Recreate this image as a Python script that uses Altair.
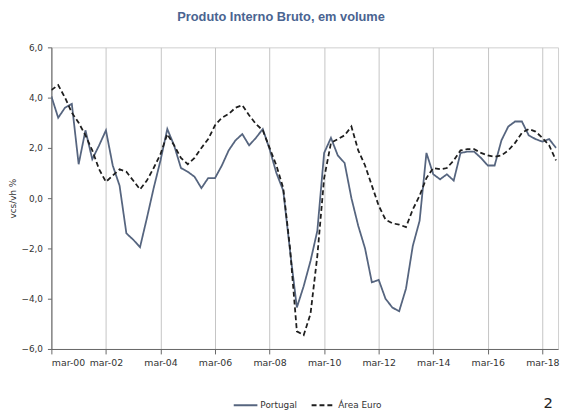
import json
import altair as alt
import pandas as pd

# Quarterly y-o-y GDP growth (%), 2000Q1 .. 2018Q3
portugal = [
    4.05, 3.2, 3.6, 3.75, 1.35, 2.7, 1.55, 2.1,      # 2000-2001
    2.7, 1.3, 0.5, -1.4, -1.65, -1.95, -0.8, 0.4,     # 2002-2003
    1.5, 2.75, 2.1, 1.2, 1.05, 0.85, 0.4, 0.8,        # 2004-2005
    0.8, 1.3, 1.9, 2.3, 2.55, 2.1, 2.4, 2.75,         # 2006-2007
    1.95, 1.0, 0.3, -2.1, -4.35, -3.5, -2.5, -1.3,    # 2008-2009
    1.8, 2.4, 1.7, 1.4, 0.0, -1.1, -2.0, -3.35,       # 2010-2011
    -3.25, -4.0, -4.35, -4.5, -3.6, -1.9, -0.9, 1.8,  # 2012-2013
    0.95, 0.75, 0.95, 0.7, 1.8, 1.85, 1.85, 1.6,      # 2014-2015
    1.3, 1.3, 2.3, 2.85, 3.05, 3.05, 2.5, 2.35,       # 2016-2017
    2.25, 2.35, 2.0,                                  # 2018
]
area_euro = [
    4.3, 4.5, 4.0, 3.4, 3.0, 2.5, 1.9, 1.15,
    0.65, 0.9, 1.15, 1.05, 0.7, 0.35, 0.7, 1.2,
    1.75, 2.55, 2.1, 1.6, 1.35, 1.6, 2.0, 2.35,
    2.9, 3.2, 3.35, 3.6, 3.7, 3.3, 2.95, 2.7,
    2.0, 1.3, 0.4, -2.0, -5.3, -5.45, -4.6, -2.3,
    0.8, 2.2, 2.35, 2.5, 2.85, 1.9, 1.3, 0.5,
    -0.3, -0.85, -1.0, -1.05, -1.15, -0.45, 0.1, 0.8,
    1.2, 1.15, 1.2, 1.5, 1.9, 1.95, 1.95, 1.8,
    1.7, 1.65, 1.7, 1.9, 2.2, 2.6, 2.75, 2.65,
    2.4, 2.1, 1.5,
]
series_names = ["Portugal", "Área Euro"]
tick_labels = ["mar-00", "mar-02", "mar-04", "mar-06", "mar-08",
               "mar-10", "mar-12", "mar-14", "mar-16", "mar-18"]
y_ticks = [-6, -4, -2, 0, 2, 4, 6]

rows = []
for name, vals in zip(series_names, [portugal, area_euro]):
    for i, v in enumerate(vals):
        rows.append({"t": i, "serie": name, "v": v})
df = pd.DataFrame(rows)

tick_vals = [8 * k for k in range(len(tick_labels))]
label_expr = json.dumps(tick_labels) + "[round(datum.value / 8)]"

legend_kw = dict(title=None, orient="none", legendX=184, legendY=350,
                 direction="horizontal", symbolType="stroke",
                 symbolSize=576, symbolStrokeWidth=2,
                 labelFontSize=9, labelFont="DejaVu Sans",
                 labelColor="#333333", labelOffset=2, columnPadding=10)

lines = alt.Chart(df).mark_line(strokeWidth=1.8, clip=True).encode(
    x=alt.X("t:Q",
            scale=alt.Scale(domain=[0, 74.3], nice=False, zero=False),
            axis=alt.Axis(values=tick_vals, labelExpr=label_expr, title=None,
                          grid=True, gridColor="#c4c4c4", gridWidth=1,
                          domainColor="#666666", tickColor="#666666",
                          tickSize=5, labelPadding=4, labelFontSize=9.5,
                          labelColor="#333333", labelFont="DejaVu Sans")),
    y=alt.Y("v:Q",
            scale=alt.Scale(domain=[-6, 6], nice=False),
            axis=alt.Axis(values=y_ticks, grid=False, title="vcs/vh %",
                          labelExpr="replace(format(datum.value, '.1f'), '.', ',')",
                          domainColor="#666666", tickColor="#666666",
                          tickSize=4, labelPadding=5, labelFontSize=9,
                          labelColor="#333333", labelFont="DejaVu Sans",
                          titleFont="DejaVu Sans", titleFontSize=9,
                          titleFontWeight="normal", titleColor="#333333",
                          titlePadding=4)),
    color=alt.Color("serie:N",
                    scale=alt.Scale(domain=series_names, range=["#56657f", "#1e1e1e"]),
                    legend=alt.Legend(**legend_kw)),
    strokeDash=alt.StrokeDash("serie:N",
                              scale=alt.Scale(domain=series_names, range=[[1, 0], [5, 3]]),
                              legend=alt.Legend(**legend_kw)),
)

page_no = alt.Chart(pd.DataFrame({"txt": ["2"]})).mark_text(
    fontSize=15, font="DejaVu Sans", color="#222222", align="center", baseline="alphabetic"
).encode(x=alt.value(504), y=alt.value(366), text="txt:N")

chart = alt.layer(lines, page_no).properties(
    width=514,
    height=306,
    autosize=alt.AutoSizeParams(type="none"),
    padding={"left": 44, "top": 37, "right": 3, "bottom": 61},
    title=alt.TitleParams("Produto Interno Bruto, em volume", anchor="middle",
                          dx=-24, offset=20, fontSize=13, font="Liberation Sans",
                          fontWeight="bold", color="#4a6491"),
).configure_view(stroke="#cfcfcf", strokeWidth=1)

chart.save("out.html", embed_options={"renderer": "svg", "actions": False})
